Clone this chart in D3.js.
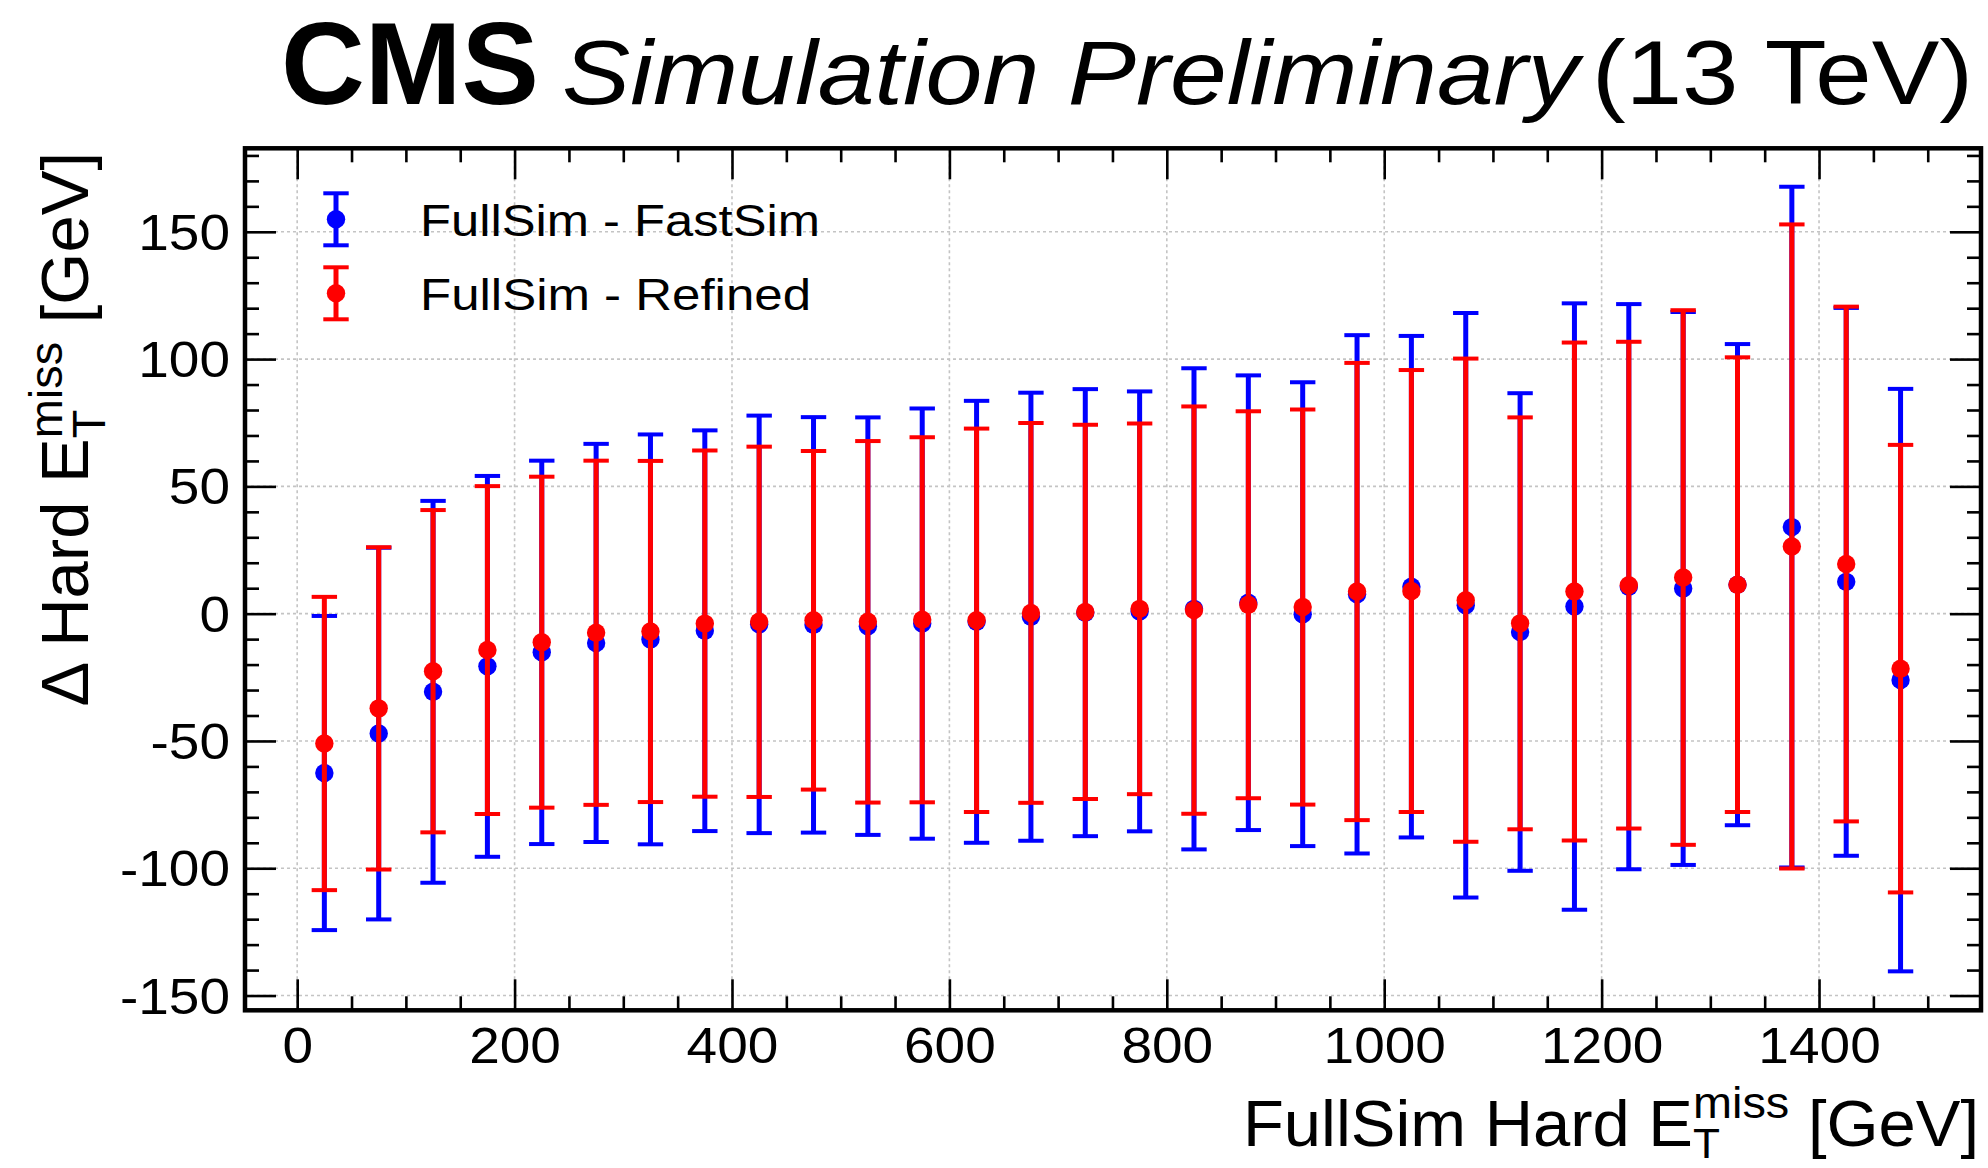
<!DOCTYPE html>
<html>
<head>
<meta charset="utf-8">
<script src="https://cdn.jsdelivr.net/npm/d3@7"></script>
<style>
  html, body { margin: 0; padding: 0; background: #fff; }
  svg { display: block; }
  text { font-family: "Liberation Sans", Arial, Helvetica, sans-serif; fill: #000; }
</style>
</head>
<body>
<svg id="chart" width="1988" height="1168"></svg>
<script>
// Bin centres of the FullSim hard MET bins [GeV]
const binCenters = [25, 75, 125, 175, 225, 275, 325, 375, 425, 475,
                    525, 575, 625, 675, 725, 775, 825, 875, 925, 975,
                    1025, 1075, 1125, 1175, 1225, 1275, 1325, 1375, 1425, 1475];

// FullSim - FastSim: mean difference and its spread [GeV]
const fastMean = [-62.6, -47.1, -30.7, -20.7, -15.2, -11.5, -10.1, -6.7, -4.2, -4.4,
                  -4.9, -3.9, -3.2, -1.2, 0.4, 0.9, 1.9, 4.3, -0.2, 7.6,
                  10.6, 3.3, -7.2, 2.8, 10.6, 9.9, 11.4, 34.0, 12.5, -26.1];
const fastErr  = [61.7, 73.0, 75.0, 74.8, 75.3, 78.2, 80.5, 78.7, 82.0, 81.6,
                  82.0, 84.5, 86.8, 88.0, 87.8, 86.4, 94.5, 89.3, 91.1, 101.8,
                  98.5, 114.8, 93.8, 119.1, 111.0, 108.6, 94.5, 133.7, 107.6, 114.4];

// FullSim - Refined: mean difference and its spread [GeV]
const refMean = [-51.0, -37.2, -22.6, -14.3, -11.2, -7.5, -7.0, -3.9, -3.2, -2.6,
                 -3.2, -2.4, -2.6, 0.3, 0.7, 1.9, 1.4, 3.5, 2.6, 8.7,
                 8.9, 5.3, -3.8, 8.7, 11.2, 14.2, 11.4, 26.4, 19.5, -21.6];
const refErr  = [57.6, 63.3, 63.3, 64.4, 65.0, 67.6, 67.0, 68.0, 68.8, 66.5,
                 71.0, 71.7, 75.3, 74.6, 73.5, 72.8, 80.0, 76.0, 77.6, 89.8,
                 86.8, 94.9, 80.9, 97.8, 95.6, 105.0, 89.3, 126.5, 101.1, 87.9];

const xMajorTicks = [0, 200, 400, 600, 800, 1000, 1200, 1400];
const xMinorTicks = d3.range(0, 1501, 50).filter(v => v % 200 !== 0);
const yMajorTicks = [-150, -100, -50, 0, 50, 100, 150];
const yMinorTicks = d3.range(-150, 181, 10).filter(v => v % 50 !== 0);

const seriesNames  = ["FullSim - FastSim", "FullSim - Refined"];
const seriesColors = ["#0000ff", "#ff0000"];

// ---- geometry ----
const X0 = 245, X1 = 1981, Y0 = 148.3, Y1 = 1010.3;
const x = d3.scaleLinear().domain([-48, 1549]).range([X0, X1]);
const y = d3.scaleLinear().domain([-155.8, 182.8]).range([Y1, Y0]);

const svg = d3.select("#chart");
const plainNumber = d => String(d);   // hyphen-minus for negative labels

// stretch a text horizontally by a factor, keeping its anchor
function stretch(sel, k) {
  sel.each(function () {
    const w = this.getComputedTextLength();
    this.setAttribute("textLength", w * k);
    this.setAttribute("lengthAdjust", "spacingAndGlyphs");
  });
}

// ---- grid ----
const grid = svg.append("g").attr("stroke", "#c4c4c4").attr("stroke-width", 1.6)
  .attr("stroke-dasharray", "3,3");
grid.selectAll("line.gx").data(xMajorTicks).join("line")
  .attr("x1", d => x(d)).attr("x2", d => x(d)).attr("y1", Y0).attr("y2", Y1);
grid.selectAll("line.gy").data(yMajorTicks).join("line")
  .attr("x1", X0).attr("x2", X1).attr("y1", d => y(d)).attr("y2", d => y(d));

// ---- axes (ticks pointing into the frame on all four sides) ----
function styleAxis(g) {
  g.select(".domain").remove();
  g.selectAll(".tick line").attr("stroke", "#000").attr("stroke-width", 2.6);
}
const MAJ = 31, MIN = 14;

svg.append("g").attr("transform", `translate(0,${Y1})`)
  .call(d3.axisBottom(x).tickValues(xMinorTicks).tickSize(-MIN).tickFormat(""))
  .call(styleAxis);
const xb = svg.append("g").attr("transform", `translate(0,${Y1})`)
  .call(d3.axisBottom(x).tickValues(xMajorTicks).tickSize(-MAJ).tickFormat(plainNumber))
  .call(styleAxis);
xb.selectAll(".tick text").attr("y", 52.7).attr("dy", 0)
  .attr("font-size", 50).attr("font-family", "Liberation Sans, Arial, sans-serif");
stretch(xb.selectAll(".tick text"), 1.1);

svg.append("g").attr("transform", `translate(0,${Y0})`)
  .call(d3.axisTop(x).tickValues(xMinorTicks).tickSize(-MIN).tickFormat(""))
  .call(styleAxis);
svg.append("g").attr("transform", `translate(0,${Y0})`)
  .call(d3.axisTop(x).tickValues(xMajorTicks).tickSize(-MAJ).tickFormat(""))
  .call(styleAxis);

svg.append("g").attr("transform", `translate(${X0},0)`)
  .call(d3.axisLeft(y).tickValues(yMinorTicks).tickSize(-MIN).tickFormat(""))
  .call(styleAxis);
const yl = svg.append("g").attr("transform", `translate(${X0},0)`)
  .call(d3.axisLeft(y).tickValues(yMajorTicks).tickSize(-MAJ).tickFormat(plainNumber))
  .call(styleAxis);
yl.selectAll(".tick text").attr("x", -15).attr("dy", 0).attr("y", 17.5)
  .attr("font-size", 50).attr("font-family", "Liberation Sans, Arial, sans-serif");
stretch(yl.selectAll(".tick text"), 1.1);

svg.append("g").attr("transform", `translate(${X1},0)`)
  .call(d3.axisRight(y).tickValues(yMinorTicks).tickSize(-MIN).tickFormat(""))
  .call(styleAxis);
svg.append("g").attr("transform", `translate(${X1},0)`)
  .call(d3.axisRight(y).tickValues(yMajorTicks).tickSize(-MAJ).tickFormat(""))
  .call(styleAxis);

// ---- data: error bars with caps and round markers ----
const CAP = 12.7, R = 9.2;
function drawSeries(mean, err, color) {
  const rows = binCenters.map((c, i) => ({ c, m: mean[i], e: err[i] }));
  const g = svg.append("g");
  g.selectAll("line.bar").data(rows).join("line")
    .attr("x1", d => x(d.c)).attr("x2", d => x(d.c))
    .attr("y1", d => y(d.m + d.e)).attr("y2", d => y(d.m - d.e))
    .attr("stroke", color).attr("stroke-width", 5);
  g.selectAll("line.capHi").data(rows).join("line")
    .attr("x1", d => x(d.c) - CAP).attr("x2", d => x(d.c) + CAP)
    .attr("y1", d => y(d.m + d.e)).attr("y2", d => y(d.m + d.e))
    .attr("stroke", color).attr("stroke-width", 4);
  g.selectAll("line.capLo").data(rows).join("line")
    .attr("x1", d => x(d.c) - CAP).attr("x2", d => x(d.c) + CAP)
    .attr("y1", d => y(d.m - d.e)).attr("y2", d => y(d.m - d.e))
    .attr("stroke", color).attr("stroke-width", 4);
  g.selectAll("circle").data(rows).join("circle")
    .attr("cx", d => x(d.c)).attr("cy", d => y(d.m)).attr("r", R)
    .attr("fill", color);
}
drawSeries(fastMean, fastErr, seriesColors[0]);
drawSeries(refMean, refErr, seriesColors[1]);

// ---- frame ----
svg.append("rect").attr("x", X0).attr("y", Y0).attr("width", X1 - X0).attr("height", Y1 - Y0)
  .attr("fill", "none").attr("stroke", "#000").attr("stroke-width", 4.5);

// ---- legend ----
const legendRows = [
  { name: seriesNames[0], color: seriesColors[0], cy: 219.3, width: 400 },
  { name: seriesNames[1], color: seriesColors[1], cy: 293.3, width: 391 }
];
const lg = svg.append("g");
legendRows.forEach(r => {
  const mx = 336, h = 26;
  lg.append("line").attr("x1", mx).attr("x2", mx).attr("y1", r.cy - h).attr("y2", r.cy + h)
    .attr("stroke", r.color).attr("stroke-width", 5);
  [r.cy - h, r.cy + h].forEach(yy =>
    lg.append("line").attr("x1", mx - CAP).attr("x2", mx + CAP).attr("y1", yy).attr("y2", yy)
      .attr("stroke", r.color).attr("stroke-width", 4));
  lg.append("circle").attr("cx", mx).attr("cy", r.cy).attr("r", R).attr("fill", r.color);
  lg.append("text").attr("x", 420).attr("y", r.cy + 17).attr("font-size", 44)
    .attr("textLength", r.width).attr("lengthAdjust", "spacingAndGlyphs").text(r.name);
});

// ---- labels with stacked sub/superscripts ----
function richLabel(parent, parts, fs) {
  const g = parent.append("g");
  let cx = 0, stackW = 0;
  parts.forEach(p => {
    cx += (p.gap || 0) * fs;
    const size = fs * (p.scale || 1);
    const t = g.append("text").attr("x", cx).attr("y", p.shift || 0)
      .attr("font-size", size).text(p.text);
    const w = t.node().getComputedTextLength();
    if (p.stack) { stackW = Math.max(stackW, w); }
    else { cx += Math.max(w, stackW); stackW = 0; }
  });
  return { g, width: cx };
}

// x axis title, right-aligned to the frame
const xt = svg.append("g");
const xl = richLabel(xt, [
  { text: "FullSim Hard E" },
  { text: "T", scale: 0.66, shift: 12, stack: true },
  { text: "miss", scale: 0.7, shift: -28 },
  { text: "[GeV]", gap: 0.278 }
], 64);
const kx = 736 / xl.width;
xt.attr("transform", `translate(${1979 - 736},1146) scale(${kx},1)`);

// y axis title, rotated, ending at the top of the frame
const yt = svg.append("g");
const ylab = richLabel(yt, [
  { text: "\u0394 Hard E" },
  { text: "T", scale: 0.7, shift: 16.5, stack: true },
  { text: "miss", scale: 0.7, shift: -26 },
  { text: "[GeV]", gap: 0.278 }
], 67);
ylab.g.attr("transform", `translate(${-ylab.width},0)`);
yt.attr("transform", "translate(88,152) rotate(-90)");

// ---- header ----
svg.append("text").attr("x", 281).attr("y", 104).attr("font-size", 116)
  .attr("font-weight", "bold").attr("textLength", 258).attr("lengthAdjust", "spacingAndGlyphs")
  .text("CMS");
svg.append("text").attr("x", 562).attr("y", 104).attr("font-size", 90)
  .attr("font-style", "italic").attr("textLength", 1017).attr("lengthAdjust", "spacingAndGlyphs")
  .text("Simulation Preliminary");
svg.append("text").attr("x", 1973).attr("y", 104).attr("font-size", 91)
  .attr("text-anchor", "end").attr("textLength", 381).attr("lengthAdjust", "spacingAndGlyphs")
  .text("(13 TeV)");
</script>
</body>
</html>
